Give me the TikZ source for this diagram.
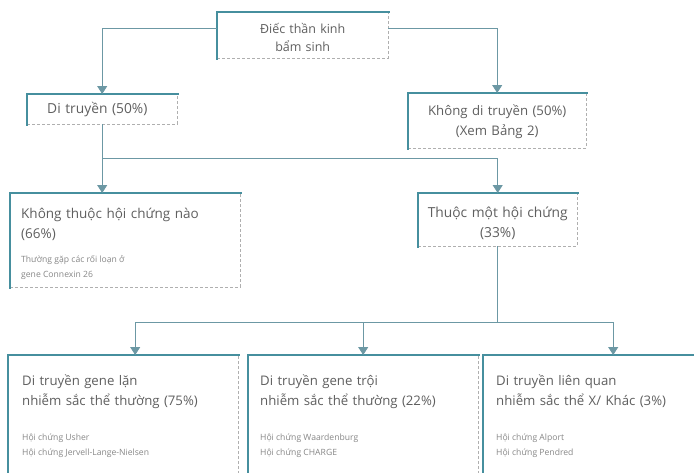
\documentclass[tikz,border=0pt]{standalone}
\usepackage{fontspec}
\setmainfont{Open Sans}
\usetikzlibrary{arrows.meta, positioning}
\definecolor{boxTeal}{RGB}{70,143,158}
\definecolor{lineTeal}{RGB}{108,152,164}
\definecolor{textGray}{RGB}{95,95,95}
\definecolor{noteGray}{RGB}{135,135,135}
\definecolor{edgeGray}{RGB}{175,175,175}
\newcommand{\subfont}{\fontsize{8.6}{15}\selectfont\spaceskip=0pt\xspaceskip=0pt\color{noteGray}}

\begin{document}
\begin{tikzpicture}[
    x=1pt, y=-1pt,
    box/.style={
      rectangle, draw=edgeGray, densely dashed, line width=0.4pt, fill=white,
      anchor=north west, inner xsep=13pt, inner ysep=0pt,
      font=\fontsize{13.2}{20}\selectfont, text=textGray, align=left
    },
    accent/.style={boxTeal, line width=2.6pt, line cap=rect},
    arrow/.style={-{Triangle[width=10pt, length=8pt]}, line width=0.9pt, lineTeal},
    link/.style={line width=0.9pt, lineTeal}
  ]
    \useasboundingbox (0,0) rectangle (694,472);
    \clip (0,0) rectangle (694,472);

    % Top level
    \node[box, align=center, text width=145pt, minimum height=46pt,
      font=\fontsize{12.5}{18}\selectfont] (root) at (217,12)
      {Điếc thần kinh\\bẩm sinh\par\vspace{-5pt}};

    % Second level
    \node[box, inner xsep=20pt, text width=110pt, minimum height=30pt,
      font=\fontsize{13.8}{20}\selectfont] (genetic) at (27,94)
      {Di truyền (50\%)};
    \node[box, align=center, text width=152pt, minimum height=55pt] (nongenetic) at (408,93)
      {Không di truyền (50\%)\\(Xem Bảng 2)\par\vspace{-3pt}};

    % Third level
    \node[box, inner xsep=11pt, text width=208pt, minimum height=94pt,
      font=\fontsize{13.5}{20}\selectfont] (nonsyndromic) at (10,193)
      {Không thuộc hội chứng nào\\(66\%)\par\vspace{9pt}\subfont Thường gặp các rối loạn ở\\[0pt]gene Connexin 26\par\vspace{-7pt}};
    \node[box, align=center, inner xsep=5pt, text width=149pt, minimum height=53pt,
      font=\fontsize{13.8}{20}\selectfont] (syndromic) at (418,193)
      {Thuộc một hội chứng\\(33\%)\par\vspace{-7pt}};

    % Fourth level
    \node[box, inner xsep=14pt, text width=202pt, minimum height=119pt] (recessive) at (8,355)
      {Di truyền gene lặn\\nhiễm sắc thể thường (75\%)\par\vspace{20pt}\subfont Hội chứng Usher\\[0pt]Hội chứng Jervell-Lange-Nielsen\par\vspace{-3pt}};
    \node[box, inner xsep=12pt, text width=206pt, minimum height=119pt] (dominant) at (248,355)
      {Di truyền gene trội\\nhiễm sắc thể thường (22\%)\par\vspace{20pt}\subfont Hội chứng Waardenburg\\[0pt]Hội chứng CHARGE\par\vspace{-3pt}};
    \node[box, inner xsep=13pt, text width=204pt, minimum height=119pt] (xlinked) at (483,355)
      {Di truyền liên quan\\nhiễm sắc thể X/ Khác (3\%)\par\vspace{20pt}\subfont Hội chứng Alport\\[0pt]Hội chứng Pendred\par\vspace{-3pt}};

    % Thick top and left edges
    \foreach \n in {root, genetic, nongenetic, nonsyndromic, syndromic, recessive, dominant, xlinked}
      \draw[accent] (\n.south west) -- (\n.north west) -- (\n.north east);

    % Arrows
    \draw[arrow] ([yshift=7pt]root.west) -| (genetic.north);
    \draw[arrow] ([yshift=7pt]root.east) -| (nongenetic.north);

    \coordinate (split) at (genetic.south |- 0,158);
    \draw[link] (genetic.south) -- (split);
    \draw[arrow] (split) -- (split |- nonsyndromic.north);
    \draw[arrow] (split) -| (syndromic.north);

    \coordinate (bus) at (syndromic.south |- 0,322);
    \draw[link] (syndromic.south) -- (bus);
    \draw[arrow] (bus) -| ([xshift=12pt]recessive.north);
    \draw[arrow] (dominant.north |- bus) -- (dominant.north);
    \draw[arrow] (bus) -| ([xshift=15pt]xlinked.north);
  \end{tikzpicture}
\end{document}
